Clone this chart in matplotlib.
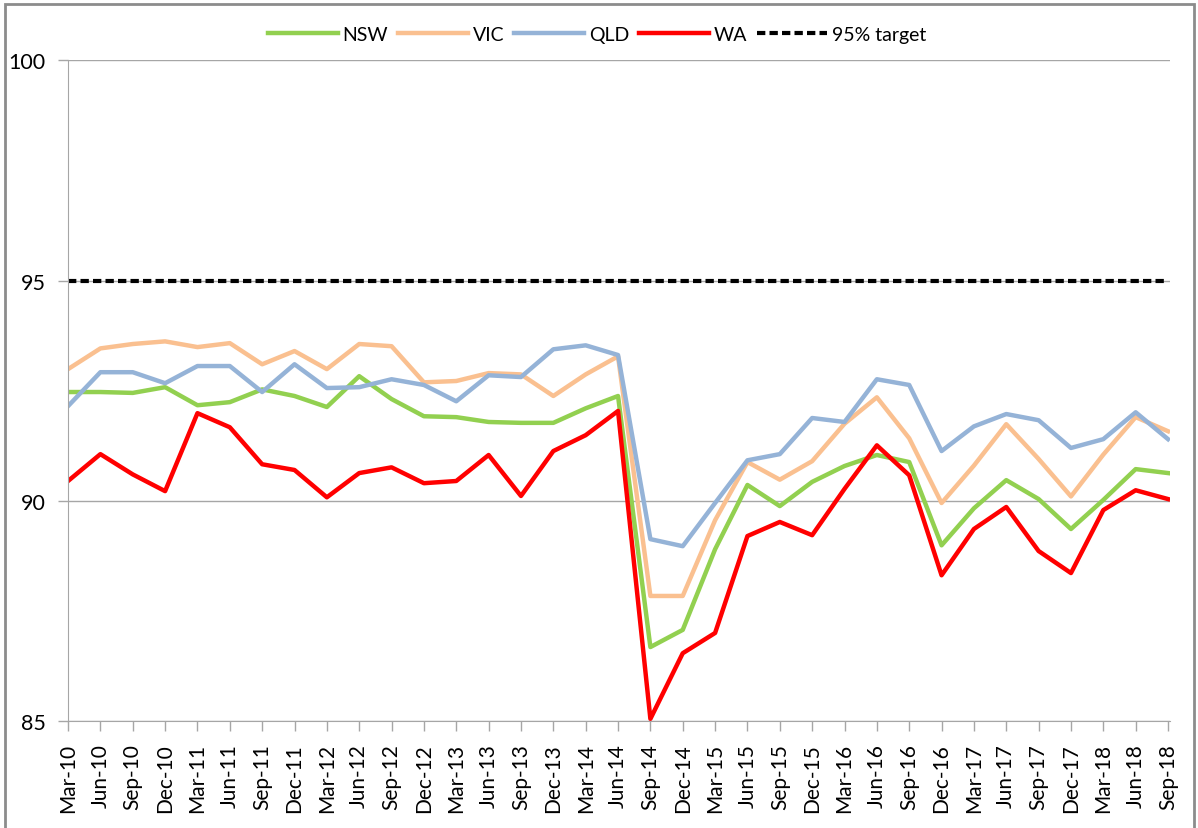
import matplotlib
matplotlib.use('Agg')
import matplotlib.pyplot as plt
from matplotlib.patches import Rectangle

plt.rcParams['font.family'] = ['Lato', 'DejaVu Sans']

# quarterly labels Mar-10 .. Sep-18
quarters = []
for yr in range(10, 19):
    for m in ['Mar', 'Jun', 'Sep', 'Dec']:
        quarters.append('%s-%02d' % (m, yr))
quarters = quarters[:35]

nsw = [92.47, 92.47, 92.45, 92.58, 92.17, 92.24, 92.53, 92.38, 92.13, 92.83,
       92.31, 91.92, 91.90, 91.79, 91.77, 91.77, 92.10, 92.38, 86.68, 87.07,
       88.90, 90.36, 89.88, 90.43, 90.79, 91.04, 90.88, 88.99, 89.83, 90.47,
       90.04, 89.36, 90.02, 90.72, 90.63]
vic = [92.99, 93.46, 93.56, 93.62, 93.49, 93.58, 93.10, 93.40, 92.99, 93.56,
       93.51, 92.69, 92.72, 92.90, 92.87, 92.38, 92.87, 93.28, 87.84, 87.84,
       89.56, 90.88, 90.48, 90.90, 91.75, 92.35, 91.42, 89.95, 90.80, 91.74,
       90.95, 90.10, 91.05, 91.90, 91.58]
qld = [92.15, 92.92, 92.92, 92.67, 93.06, 93.06, 92.47, 93.10, 92.56, 92.58,
       92.76, 92.63, 92.26, 92.85, 92.81, 93.44, 93.53, 93.31, 89.13, 88.97,
       89.95, 90.92, 91.06, 91.88, 91.79, 92.76, 92.63, 91.13, 91.69, 91.97,
       91.83, 91.20, 91.40, 92.01, 91.40]
wa = [90.45, 91.06, 90.60, 90.22, 91.99, 91.67, 90.83, 90.70, 90.08, 90.63,
      90.76, 90.40, 90.45, 91.04, 90.11, 91.13, 91.49, 92.04, 85.05, 86.54,
      87.00, 89.20, 89.52, 89.22, 90.27, 91.26, 90.58, 88.31, 89.36, 89.86,
      88.86, 88.36, 89.79, 90.24, 90.04]
target = 95

fig = plt.figure(figsize=(11.98, 8.29), dpi=100)
# chart area border
fig.patches.append(Rectangle((5 / 1198, -0.01), 1189 / 1198, 1.01 - 5 / 829,
                             transform=fig.transFigure, fill=False,
                             edgecolor='#8c8c8c', lw=2))
ax = fig.add_axes([0.0568, 0.129, 0.9198, 0.797])

x = list(range(len(quarters)))
ax.plot(x, nsw, color='#92D050', lw=3.2, label='NSW')
ax.plot(x, vic, color='#FAC090', lw=3.2, label='VIC')
ax.plot(x, qld, color='#95B3D7', lw=3.2, label='QLD')
ax.plot(x, wa, color='#FF0000', lw=3.2, label='WA')
ax.plot([x[0], x[-1]], [target, target], color='black', lw=3,
        ls=(0, (2, 1)), label='95% target')

ax.set_xlim(0, len(quarters) - 1 + 0.06)
ax.set_ylim(85, 100)
ax.set_yticks([85, 90, 95, 100])
ax.set_yticklabels(['85', '90', '95', '100'], fontsize=15.5)
ax.set_xticks(x)
ax.set_xticklabels(quarters, rotation=90, fontsize=15)
ax.grid(axis='y', color='#a6a6a6', lw=1)
ax.set_axisbelow(True)
for s in ['top', 'right']:
    ax.spines[s].set_visible(False)
for s in ['left', 'bottom']:
    ax.spines[s].set_color('#a6a6a6')
ax.tick_params(axis='both', color='#a6a6a6', length=7, width=1)
ax.tick_params(axis='x', pad=9)
ax.tick_params(axis='y', pad=9)

ax.legend(loc='lower center', bbox_to_anchor=(0.48, 1.0), ncol=5, frameon=False,
          fontsize=14, handlelength=3.6, handletextpad=0.25, columnspacing=0.5)

fig.savefig('out.png', dpi=100)
